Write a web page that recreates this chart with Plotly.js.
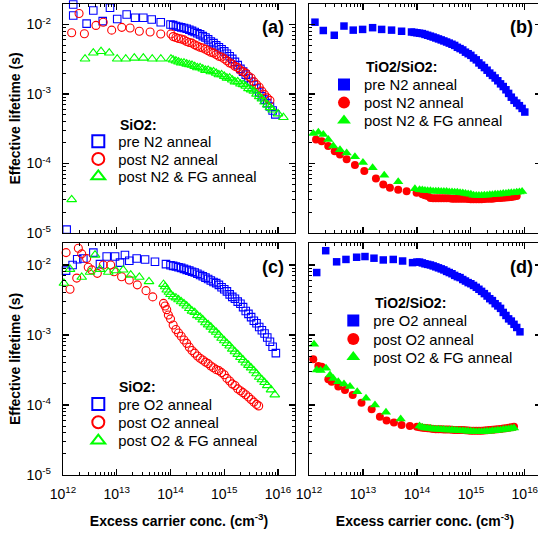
<!DOCTYPE html>
<html><head><meta charset="utf-8">
<script src="https://cdn.plot.ly/plotly-3.0.1.min.js"></script>
<style>html,body{margin:0;padding:0;overflow:hidden;background:#fff;}#chart{width:541px;height:538px;}</style>
</head><body><div id="chart"></div>
<script>
// ---------- (a) SiO2, N2 anneal ----------
var a_pre_n = [8.2e11,1.17e12,1.55e12,1.55e12,2.75e12,3.66e12,5.48e12,7.48e12,1.02e13,1.53e13,2.19e13,3.12e13,4.47e13,6.58e13,1.0e14,
 1.12e14,1.26e14,1.41e14,1.58e14,1.78e14,2.0e14,2.24e14,2.51e14,2.82e14,3.16e14,3.55e14,3.98e14,4.47e14,5.01e14,5.62e14,6.31e14,7.08e14,7.94e14,8.91e14,
 1.0e15,1.12e15,1.26e15,1.41e15,1.58e15,1.78e15,2.0e15,2.24e15,2.51e15,2.82e15,3.16e15,3.55e15,3.98e15,4.47e15,5.01e15,5.62e15,6.31e15,7.08e15,7.94e15,8.91e15];
var a_pre_tau = [0.0061,1.12e-5,0.0194,0.0135,0.0103,0.0159,0.0112,0.0174,0.012,0.0139,0.0125,0.0125,0.0118,0.0108,0.0100,
 0.0098,0.0095,0.0093,0.0091,0.0089,0.0087,0.0084,0.0081,0.0078,0.0075,0.0072,0.0068,0.0065,0.0061,0.0057,0.0054,0.0050,0.0047,0.0044,
 0.0041,0.0038,0.0035,0.0032,0.0029,0.0026,0.0023,0.0021,0.0019,0.0017,0.0015,0.00135,0.0012,0.00105,0.00093,0.00083,0.00074,0.00066,0.00058,0.00051];
var a_post_n = [9.9e11,9.9e11,1.45e12,1.99e12,2.5e12,4.1e12,5.6e12,8.05e12,1.24e13,1.77e13,2.63e13,4.17e13,6.58e13,1.02e14,
 1.12e14,1.26e14,1.41e14,1.58e14,1.78e14,2.0e14,2.24e14,2.51e14,2.82e14,3.16e14,3.55e14,3.98e14,4.47e14,5.01e14,5.62e14,6.31e14,7.08e14,7.94e14,8.91e14,
 1.0e15,1.12e15,1.26e15,1.41e15,1.58e15,1.78e15,2.0e15,2.24e15,2.51e15,2.82e15,3.16e15,3.55e15,3.98e15,4.47e15,5.01e15,5.62e15,6.31e15,7.08e15];
var a_post_tau = [1.32e-5,8.9e-6,0.0076,0.0144,0.00735,0.0097,0.0108,0.0083,0.0091,0.0089,0.0080,0.0078,0.0073,0.0073,
 0.0067,0.0065,0.0063,0.0062,0.0060,0.0057,0.0055,0.0054,0.0051,0.0049,0.0047,0.0046,0.0044,0.0042,0.0040,0.0039,0.0037,0.0035,0.0034,
 0.0032,0.0030,0.0028,0.0027,0.0025,0.0024,0.0022,0.0021,0.0020,0.0018,0.0017,0.0015,0.00137,0.00125,0.0011,0.00098,0.00088,0.00081];
var a_fg_n = [1.45e12,2.57e12,3.66e12,5.1e12,7.25e12,1.02e13,1.47e13,2.12e13,3.12e13,4.57e13,6.6e13,1.02e14,
 1.12e14,1.26e14,1.41e14,1.58e14,1.78e14,2.0e14,2.24e14,2.51e14,2.82e14,3.16e14,3.55e14,3.98e14,4.47e14,5.01e14,5.62e14,6.31e14,7.08e14,7.94e14,8.91e14,
 1.0e15,1.12e15,1.26e15,1.41e15,1.58e15,1.78e15,2.0e15,2.24e15,2.51e15,2.82e15,3.16e15,3.55e15,3.98e15,4.47e15,5.01e15,5.62e15,6.31e15,7.08e15,7.94e15,1.0e16,1.26e16];
var a_fg_tau = [3.03e-5,0.0032,0.0039,0.0041,0.0039,0.0032,0.0032,0.0033,0.0033,0.0032,0.0032,0.0032,
 0.0031,0.0030,0.0029,0.0028,0.0028,0.0027,0.00265,0.0026,0.0025,0.0024,0.0024,0.0023,0.0022,0.0022,0.0021,0.0021,0.0020,0.0019,0.0019,
 0.0018,0.0017,0.0017,0.0016,0.0015,0.0015,0.0014,0.00137,0.0013,0.0012,0.00115,0.0011,0.0010,0.00092,0.00085,0.00077,0.0007,0.00064,0.00059,0.00052,0.00046];

// ---------- (b) TiO2/SiO2, N2 anneal ----------
var b_pre_n = [1.29e12,1.84e12,2.94e12,4.45e12,6.6e12,9.86e12,1.51e13,2.22e13,3.39e13,5.2e13,
 7.94e13,8.91e13,1.0e14,1.12e14,1.26e14,1.41e14,1.58e14,1.78e14,2.0e14,2.24e14,2.51e14,2.82e14,3.16e14,3.55e14,3.98e14,4.47e14,5.01e14,5.62e14,6.31e14,7.08e14,7.94e14,8.91e14,
 1.0e15,1.12e15,1.26e15,1.41e15,1.58e15,1.78e15,2.0e15,2.24e15,2.51e15,2.82e15,3.16e15,3.55e15,3.98e15,4.47e15,5.01e15,5.62e15,6.31e15,7.08e15,7.94e15,8.91e15,1.0e16];
var b_pre_tau = [0.0108,0.0082,0.0070,0.0095,0.0083,0.0085,0.0090,0.0085,0.0083,0.0080,
 0.0078,0.0077,0.0076,0.0075,0.0074,0.0072,0.0070,0.0068,0.0066,0.0064,0.0062,0.0060,0.0058,0.0056,0.0054,0.0052,0.0050,0.0047,0.0045,0.0043,0.0040,0.0038,
 0.0036,0.0033,0.0031,0.0028,0.0026,0.0024,0.0022,0.0020,0.00185,0.0017,0.00155,0.0014,0.00128,0.00115,0.00102,0.0009,0.00081,0.00074,0.00068,0.00062,0.00055];
var b_post_n = [9.7e11,1.35e12,1.72e12,2.27e12,3.0e12,3.75e12,4.99e12,7.1e12,1.06e13,1.74e13,2.38e13,3.16e13,4.5e13,6.45e13,9.87e13,
 1.26e14,1.41e14,1.58e14,1.78e14,2.0e14,2.24e14,2.51e14,2.82e14,3.16e14,3.55e14,3.98e14,4.47e14,5.01e14,5.62e14,6.31e14,7.08e14,7.94e14,8.91e14,1.0e15,
 1.12e15,1.26e15,1.41e15,1.58e15,1.78e15,2.0e15,2.24e15,2.51e15,2.82e15,3.16e15,3.55e15,3.98e15,4.47e15,5.01e15,5.62e15,6.31e15,7.08e15];
var b_post_tau = [2.26e-4,2.21e-4,2.09e-4,1.78e-4,1.5e-4,1.35e-4,1.15e-4,9.5e-5,7.8e-5,6.1e-5,5.0e-5,4.47e-5,4.2e-5,4.0e-5,3.8e-5,
 3.6e-5,3.5e-5,3.4e-5,3.2e-5,3.15e-5,3.15e-5,3.15e-5,3.15e-5,3.15e-5,3.15e-5,3.15e-5,3.12e-5,3.12e-5,3.1e-5,3.1e-5,3.1e-5,3.1e-5,3.08e-5,3.05e-5,
 3.05e-5,3.05e-5,3.05e-5,3.05e-5,3.08e-5,3.1e-5,3.1e-5,3.12e-5,3.15e-5,3.18e-5,3.2e-5,3.22e-5,3.25e-5,3.28e-5,3.3e-5,3.35e-5,3.4e-5];
var b_fg_n = [9.7e11,1.2e12,1.49e12,1.84e12,2.28e12,2.82e12,3.75e12,4.99e12,7.1e12,1.0e13,1.51e13,2.48e13,4.5e13,9.18e13,
 1.12e14,1.26e14,1.41e14,1.58e14,1.78e14,2.0e14,2.24e14,2.51e14,2.82e14,3.16e14,3.55e14,3.98e14,4.47e14,5.01e14,5.62e14,6.31e14,7.08e14,7.94e14,8.91e14,
 1.0e15,1.12e15,1.26e15,1.41e15,1.58e15,1.78e15,2.0e15,2.24e15,2.51e15,2.82e15,3.16e15,3.55e15,3.98e15,4.47e15,5.01e15,5.62e15,6.31e15,7.08e15,7.94e15,8.91e15];
var b_fg_tau = [2.53e-4,2.7e-4,2.82e-4,2.61e-4,2.21e-4,1.78e-4,1.58e-4,1.42e-4,1.25e-4,1.03e-4,8.7e-5,6.8e-5,5.46e-5,4.33e-5,
 4.2e-5,4.15e-5,4.1e-5,4.05e-5,4.05e-5,4.0e-5,4.0e-5,4.0e-5,3.95e-5,3.95e-5,3.95e-5,3.9e-5,3.9e-5,3.85e-5,3.85e-5,3.8e-5,3.75e-5,3.7e-5,3.65e-5,
 3.6e-5,3.5e-5,3.45e-5,3.45e-5,3.45e-5,3.5e-5,3.5e-5,3.55e-5,3.55e-5,3.6e-5,3.6e-5,3.65e-5,3.7e-5,3.7e-5,3.75e-5,3.8e-5,3.8e-5,3.85e-5,3.9e-5,3.95e-5];

// ---------- (c) SiO2, O2 anneal ----------
var c_pre_n = [1.14e12,1.51e12,1.84e12,2.39e12,3.67e12,4.87e12,6.5e12,9.3e12,1.15e13,1.42e13,1.71e13,2.35e13,3.36e13,5.14e13,8.24e13,
 1.0e14,1.12e14,1.26e14,1.41e14,1.58e14,1.78e14,2.0e14,2.24e14,2.51e14,2.82e14,3.16e14,3.55e14,3.98e14,4.47e14,5.01e14,5.62e14,6.31e14,7.08e14,7.94e14,8.91e14,
 1.0e15,1.12e15,1.26e15,1.41e15,1.58e15,1.78e15,2.0e15,2.24e15,2.51e15,2.82e15,3.16e15,3.55e15,3.98e15,4.47e15,5.01e15,5.62e15,6.31e15,7.08e15,7.94e15,9.12e15];
var c_pre_tau = [0.0083,0.010,0.0121,0.0124,0.015,0.0103,0.0132,0.0132,0.0108,0.0139,0.0115,0.0124,0.012,0.0111,0.0103,
 0.0099,0.0097,0.0095,0.0093,0.0091,0.0088,0.0085,0.0083,0.0080,0.0078,0.0075,0.0072,0.0069,0.0066,0.0063,0.0060,0.0057,0.0055,0.0052,0.0048,
 0.0045,0.0042,0.0038,0.0035,0.0033,0.0030,0.0028,0.0025,0.0022,0.0020,0.0018,0.0016,0.00147,0.0013,0.00117,0.00105,0.00092,0.0008,0.00068,0.00055];
var c_post_n = [9.9e11,1.14e12,1.35e12,1.8e12,1.93e12,2.23e12,2.75e12,2.95e12,3.42e12,4.35e12,5.62e12,7.7e12,8.9e12,1.23e13,1.71e13,2.41e13,3.5e13,4.67e13,
 7.41e13,7.94e13,8.51e13,9.12e13,1.0e14,1.12e14,1.26e14,1.41e14,1.58e14,1.78e14,2.0e14,2.24e14,2.51e14,2.82e14,3.16e14,3.55e14,3.98e14,4.47e14,5.01e14,5.62e14,6.31e14,7.08e14,7.94e14,8.91e14,
 1.0e15,1.12e15,1.26e15,1.41e15,1.58e15,1.78e15,2.0e15,2.24e15,2.51e15,2.82e15,3.16e15,3.55e15,3.98e15,4.37e15];
var c_post_tau = [0.0228,0.015,0.0045,0.0065,0.0173,0.0144,0.0124,0.0093,0.0085,0.0076,0.010,0.010,0.008,0.0068,0.0061,0.0052,0.0043,0.0035,
 0.00283,0.0026,0.0023,0.00193,0.0017,0.00139,0.0012,0.00107,0.00096,0.00085,0.00076,0.00067,0.0006,0.00055,0.0005,0.000465,0.00044,0.00041,0.00039,0.00036,0.00034,0.00032,0.00031,0.00029,
 0.00027,0.00024,0.00022,0.0002,0.00019,0.00017,0.00016,0.00015,0.00014,0.00013,0.00012,0.00011,0.000102,9.7e-5];
var c_fg_n = [1.04e12,1.35e12,2.23e12,3.18e12,3.94e12,4.88e12,6.96e12,9.7e12,1.32e13,1.82e13,2.63e13,3.98e13,
 7.41e13,7.94e13,8.51e13,9.33e13,1.0e14,1.12e14,1.26e14,1.41e14,1.58e14,1.78e14,2.0e14,2.24e14,2.51e14,2.82e14,3.16e14,3.55e14,3.98e14,4.47e14,5.01e14,5.62e14,6.31e14,7.08e14,7.94e14,8.91e14,
 1.0e15,1.12e15,1.26e15,1.41e15,1.58e15,1.78e15,2.0e15,2.24e15,2.51e15,2.82e15,3.16e15,3.55e15,3.98e15,4.47e15,5.01e15,5.62e15,6.31e15,7.41e15,8.71e15];
var c_fg_tau = [0.0055,0.0087,0.0067,0.0079,0.0139,0.0087,0.0079,0.0083,0.0085,0.0072,0.0067,0.0058,
 0.0053,0.0049,0.0044,0.0041,0.0038,0.00353,0.0034,0.0032,0.0030,0.0028,0.0026,0.0024,0.0022,0.0021,0.0019,0.0018,0.00165,0.0015,0.0014,0.0013,0.00118,0.0011,0.0010,0.0009,
 0.00083,0.00076,0.0007,0.00063,0.00058,0.00053,0.00048,0.00044,0.0004,0.00037,0.00034,0.00031,0.00028,0.00025,0.00023,0.00021,0.00019,0.000165,0.00014];

// ---------- (d) TiO2/SiO2, O2 anneal ----------
var d_pre_n = [1.39e12,2.04e12,3.25e12,4.84e12,7.64e12,1.09e13,1.6e13,2.38e13,3.64e13,5.43e13,8.3e13,
 1.0e14,1.12e14,1.26e14,1.41e14,1.58e14,1.78e14,2.0e14,2.24e14,2.51e14,2.82e14,3.16e14,3.55e14,3.98e14,4.47e14,5.01e14,5.62e14,6.31e14,7.08e14,7.94e14,8.91e14,
 1.0e15,1.12e15,1.26e15,1.41e15,1.58e15,1.78e15,2.0e15,2.24e15,2.51e15,2.82e15,3.16e15,3.55e15,3.98e15,4.47e15,5.01e15,5.62e15,6.31e15,7.08e15,8.13e15];
var d_pre_tau = [0.0078,0.016,0.0111,0.012,0.0129,0.0132,0.0125,0.0118,0.012,0.0114,0.0108,
 0.0110,0.0110,0.0107,0.0104,0.0102,0.0100,0.0097,0.0094,0.0091,0.0088,0.0085,0.0081,0.0078,0.0075,0.0071,0.0068,0.0066,0.0062,0.0059,0.0056,
 0.0054,0.0051,0.0048,0.0045,0.0042,0.0039,0.0036,0.0033,0.0031,0.0028,0.0026,0.0024,0.0021,0.0019,0.0017,0.00158,0.00142,0.00128,0.00111];
var d_post_n = [9.3e11,1.2e12,1.49e12,1.72e12,2.28e12,2.63e12,3.49e12,4.64e12,6.45e12,9.4e12,1.45e13,2.06e13,2.74e13,3.75e13,5.2e13,7.41e13,
 1.0e14,1.12e14,1.26e14,1.41e14,1.58e14,1.78e14,2.0e14,2.24e14,2.51e14,2.82e14,3.16e14,3.55e14,3.98e14,4.47e14,5.01e14,5.62e14,6.31e14,7.08e14,7.94e14,8.91e14,
 1.0e15,1.12e15,1.26e15,1.41e15,1.58e15,1.78e15,2.0e15,2.24e15,2.51e15,2.82e15,3.16e15,3.55e15,3.98e15,4.47e15,5.01e15,5.62e15,6.31e15];
var d_post_tau = [6.45e-4,4.5e-4,3.6e-4,3.53e-4,2.33e-4,2.15e-4,1.83e-4,1.64e-4,1.39e-4,1.08e-4,8.7e-5,6.8e-5,6.0e-5,5.6e-5,5.18e-5,5.0e-5,
 4.9e-5,4.8e-5,4.75e-5,4.7e-5,4.65e-5,4.6e-5,4.55e-5,4.5e-5,4.5e-5,4.5e-5,4.45e-5,4.45e-5,4.45e-5,4.42e-5,4.4e-5,4.4e-5,4.4e-5,4.38e-5,4.35e-5,4.33e-5,
 4.3e-5,4.3e-5,4.3e-5,4.3e-5,4.3e-5,4.33e-5,4.35e-5,4.4e-5,4.42e-5,4.45e-5,4.5e-5,4.55e-5,4.6e-5,4.65e-5,4.72e-5,4.8e-5,4.9e-5];
var d_fg_n = [9.7e11,1.24e12,1.39e12,1.64e12,2.07e12,2.45e12,2.82e12,3.49e12,4.45e12,5.75e12,7.83e12,1.14e13,1.67e13,2.67e13,5.0e13,
 1.12e14,1.26e14,1.41e14,1.58e14,1.78e14,2.0e14,2.24e14,2.51e14,2.82e14,3.16e14,3.55e14,3.98e14,4.47e14,5.01e14,5.62e14,6.31e14,7.08e14,7.94e14,8.91e14,
 1.0e15,1.12e15,1.26e15,1.41e15,1.58e15,1.78e15,2.0e15,2.24e15,2.51e15,2.82e15,3.16e15,3.55e15,3.98e15,4.47e15,5.01e15,5.62e15,6.31e15];
var d_fg_tau = [5.0e-4,7.4e-4,3.16e-4,3.1e-4,3.34e-4,2.68e-4,2.4e-4,2.15e-4,2.0e-4,1.83e-4,1.55e-4,1.25e-4,1.0e-4,7.9e-5,6.3e-5,
 5.0e-5,4.8e-5,4.7e-5,4.65e-5,4.6e-5,4.55e-5,4.5e-5,4.5e-5,4.45e-5,4.45e-5,4.4e-5,4.4e-5,4.38e-5,4.35e-5,4.33e-5,4.3e-5,4.28e-5,4.25e-5,4.22e-5,
 4.2e-5,4.18e-5,4.16e-5,4.16e-5,4.16e-5,4.18e-5,4.2e-5,4.23e-5,4.27e-5,4.3e-5,4.35e-5,4.4e-5,4.45e-5,4.5e-5,4.55e-5,4.62e-5,4.7e-5];

// ---------- labels ----------
var names_N2 = ['pre N2 anneal','post N2 anneal','post N2 & FG anneal'];
var names_O2 = ['pre O2 anneal','post O2 anneal','post O2 & FG anneal'];
var legendTitles = ['SiO2:','TiO2/SiO2:','SiO2:','TiO2/SiO2:'];
var panelLabels = ['(a)','(b)','(c)','(d)'];
var xTickVals = [1e12,1e13,1e14,1e15,1e16];
var xTickText = ['10<sup>12</sup>','10<sup>13</sup>','10<sup>14</sup>','10<sup>15</sup>','10<sup>16</sup>'];
var yTickVals = [1e-5,1e-4,1e-3,1e-2];
var yTickText = ['10<sup>-5</sup>','10<sup>-4</sup>','10<sup>-3</sup>','10<sup>-2</sup>'];
var xTitle = 'Excess carrier conc. (cm<sup>-3</sup>)';
var yTitle = 'Effective lifetime (s)';

// ---------- geometry ----------
var W = 541, H = 538;
var FONT = 'Arial, "Liberation Sans", sans-serif';
var BLUE = '#0000ff', RED = '#ff0000', GREEN = '#00ff00';
function px(x){return x/W;}
function py(y){return 1 - y/H;}

function minorVals(lo, hi){var v=[];for(var d=lo; d<hi; d++){for(var k=2;k<=9;k++){v.push(k*Math.pow(10,d));}}return v;}

var traces = [];
var legends = {};
var legendRows = [[141.7,159.3,176.7],[85,103,121],[404.3,422.7,441],[321,339.3,357.3]];
var legendSymX = [98.3, 344, 98.3, 353.3];
var series = [
  [[a_pre_n,a_pre_tau],[a_post_n,a_post_tau],[a_fg_n,a_fg_tau]],
  [[b_pre_n,b_pre_tau],[b_post_n,b_post_tau],[b_fg_n,b_fg_tau]],
  [[c_pre_n,c_pre_tau],[c_post_n,c_post_tau],[c_fg_n,c_fg_tau]],
  [[d_pre_n,d_pre_tau],[d_post_n,d_post_tau],[d_fg_n,d_fg_tau]]
];
var openSyms = ['square-open','circle-open','triangle-up-open'];
var fillSyms = ['square','circle','triangle-up'];
var colors = [BLUE, RED, GREEN];
var legCount = 0;
for (var p=0; p<4; p++){
  var filled = (p===1 || p===3);
  var names = (p<2) ? names_N2 : names_O2;
  for (var s=0; s<3; s++){
    legCount++;
    var lid = legCount===1 ? 'legend' : 'legend'+legCount;
    var sz = filled ? [7.5,8,9][s] : [7.5,8,8.5][s];
    traces.push({
      type:'scatter', mode:'markers', x: series[p][s][0], y: series[p][s][1],
      xaxis: p===0?'x':'x'+(p+1), yaxis: p===0?'y':'y'+(p+1),
      name: names[s], legend: lid, cliponaxis:false,
      marker:{symbol: filled?fillSyms[s]:openSyms[s], size: sz, color: colors[s],
              line:{width: filled?0:1.1, color: colors[s]}}
    });
    legends[lid] = {x: px(legendSymX[p]-20), y: py(legendRows[p][s]), xanchor:'left', yanchor:'middle',
      bgcolor:'rgba(0,0,0,0)', borderwidth:0, font:{family:FONT, size:14.8, color:'#000'}, itemsizing:'constant'};
  }
}

function xax(dom, labels, title, rng){
  var a = {type:'log', domain:dom, range:rng, showline:true, linecolor:'#000', linewidth:1.3, mirror:'ticks',
    ticks:'inside', ticklen:6, tickwidth:1.2, tickcolor:'#000', showgrid:false, zeroline:false,
    tickmode:'array', tickvals:xTickVals, ticktext:xTickText, showticklabels:labels, ticklabelstandoff:6,
    tickfont:{family:FONT, size:14, color:'#000'},
    minor:{ticks:'inside', ticklen:3, tickwidth:1, tickcolor:'#000', tickmode:'array', tickvals:minorVals(12,16), showgrid:false}};
  if (title) a.title = {text:xTitle, font:{family:FONT, size:14, weight:'bold', color:'#000'}, standoff:15};
  return a;
}
function yax(dom, labels, title, rng){
  var a = {type:'log', domain:dom, range:rng, showline:true, linecolor:'#000', linewidth:1.3, mirror:'ticks',
    ticks:'inside', ticklen:6, tickwidth:1.2, tickcolor:'#000', showgrid:false, zeroline:false,
    tickmode:'array', tickvals:yTickVals, ticktext:yTickText, showticklabels:labels, ticklabelstandoff:8,
    tickfont:{family:FONT, size:14, color:'#000'},
    minor:{ticks:'inside', ticklen:3, tickwidth:1, tickcolor:'#000', tickmode:'array', tickvals:minorVals(-5,-1), showgrid:false}};
  if (title) a.title = {text:yTitle, font:{family:FONT, size:14, weight:'bold', color:'#000'}, standoff:2};
  return a;
}
var xL = [px(63), px(295)], xR = [px(309), 1];
var yT = [py(233), py(4)], yB = [py(475), py(243)];

var layout = {
  width:W, height:H, margin:{l:0,r:0,t:0,b:0}, paper_bgcolor:'#fff', plot_bgcolor:'rgba(0,0,0,0)',
  font:{family:FONT, color:'#000'}, showlegend:true,
  xaxis: Object.assign(xax(xL,false,false,[12,16.316]),{anchor:'y'}),
  yaxis: Object.assign(yax(yT,true,true,[-5,-1.705]),{anchor:'x'}),
  xaxis2: Object.assign(xax(xR,false,false,[12,16.3]),{anchor:'y2'}),
  yaxis2: Object.assign(yax(yT,false,false,[-5,-1.705]),{anchor:'x2'}),
  xaxis3: Object.assign(xax(xL,true,true,[12,16.316]),{anchor:'y3'}),
  yaxis3: Object.assign(yax(yB,true,true,[-5,-1.686]),{anchor:'x3'}),
  xaxis4: Object.assign(xax(xR,true,true,[12,16.3]),{anchor:'y4'}),
  yaxis4: Object.assign(yax(yB,false,false,[-5,-1.686]),{anchor:'x4'}),
  annotations: []
};
for (var k in legends) layout[k] = legends[k];

var titlePos = [[118,125],[364,67],[117,386.7],[373.3,302.7]];
var labelPos = [[273,27],[521,27],[273,267],[521,267]];
for (var p=0;p<4;p++){
  layout.annotations.push({xref:'paper', yref:'paper', x:px(titlePos[p][0]), y:py(titlePos[p][1]), xanchor:'left', yanchor:'middle',
    text:'<b>'+legendTitles[p]+'</b>', showarrow:false, font:{family:FONT, size:14, color:'#000'}});
  layout.annotations.push({xref:'paper', yref:'paper', x:px(labelPos[p][0]), y:py(labelPos[p][1]), xanchor:'center', yanchor:'middle',
    text:'<b>'+panelLabels[p]+'</b>', showarrow:false, font:{family:FONT, size:18, color:'#000'}});
}

Plotly.newPlot('chart', traces, layout, {displayModeBar:false, staticPlot:true});
</script></body></html>
